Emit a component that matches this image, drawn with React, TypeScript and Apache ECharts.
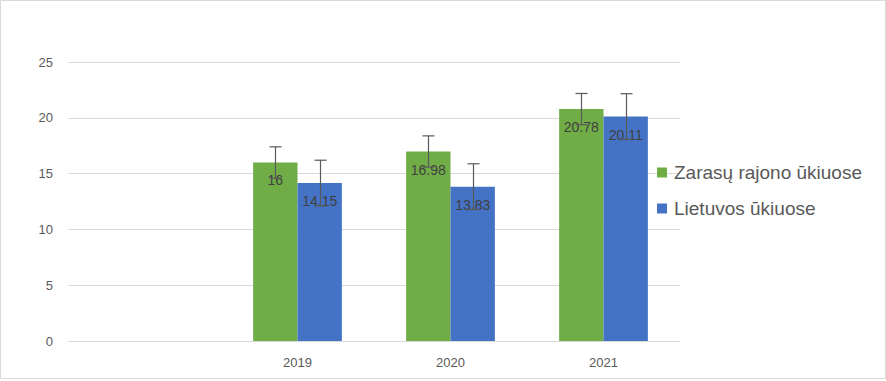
import React, { useEffect, useRef } from "react";
import * as echarts from "echarts";

const categories = ["", "2019", "2020", "2021"];
const zarasaiValues = [null, 16, 16.98, 20.78];
const lietuvaValues = [null, 14.15, 13.83, 20.11];
const zarasaiError = [null, 1.4, 1.4, 1.4];
const lietuvaError = [null, 2.05, 2.05, 2.05];
const seriesNames = ["Zarasų rajono ūkiuose", "Lietuvos ūkiuose"];
const yTicks = { min: 0, max: 25, interval: 5 };

const GREEN = "#70ad47";
const BLUE = "#4472c4";
const GAP = 0.42;

export default function App() {
  const ref = useRef<HTMLDivElement>(null);
  useEffect(() => {
    const chart = echarts.init(ref.current!, null, { renderer: "svg" });
    const errData: any[] = [];
    categories.forEach((c, i) => {
      if (zarasaiValues[i] != null) errData.push([i, zarasaiValues[i], zarasaiError[i], 0]);
      if (lietuvaValues[i] != null) errData.push([i, lietuvaValues[i], lietuvaError[i], 1]);
    });
    const labelCfg = {
      show: true,
      position: "insideTop",
      distance: 11,
      color: "#404040",
      fontSize: 14,
      fontFamily: "Liberation Sans",
    };
    chart.setOption({
      animation: false,
      textStyle: { fontFamily: "Liberation Sans" },
      graphic: [
        {
          type: "rect",
          shape: { x: 0.5, y: 0.5, width: 885, height: 378 },
          style: { fill: "none", stroke: "#d9d9d9", lineWidth: 1 },
          silent: true,
        },
      ],
      grid: { left: 68, right: 206, top: 62, bottom: 40 },
      legend: {
        orient: "vertical",
        left: 652,
        top: 158,
        itemWidth: 10,
        itemHeight: 10,
        itemGap: 17,
        icon: "rect",
        textStyle: { color: "#595959", fontSize: 19, padding: [0, 0, 0, 2] },
        data: seriesNames,
      },
      xAxis: {
        type: "category",
        data: categories,
        axisTick: { show: false },
        axisLine: { lineStyle: { color: "#d9d9d9" } },
        axisLabel: { color: "#595959", fontSize: 13, margin: 15 },
      },
      yAxis: {
        type: "value",
        min: yTicks.min,
        max: yTicks.max,
        interval: yTicks.interval,
        axisLine: { show: false },
        axisTick: { show: false },
        axisLabel: { color: "#595959", fontSize: 13, margin: 15 },
        splitLine: { lineStyle: { color: "#d9d9d9" } },
      },
      series: [
        {
          name: seriesNames[0],
          type: "bar",
          data: zarasaiValues,
          barGap: "0%",
          barCategoryGap: GAP * 100 + "%",
          itemStyle: { color: GREEN },
          label: labelCfg,
          z: 2,
        },
        {
          name: seriesNames[1],
          type: "bar",
          data: lietuvaValues,
          barGap: "0%",
          barCategoryGap: GAP * 100 + "%",
          itemStyle: { color: BLUE },
          label: labelCfg,
          z: 2,
        },
        {
          type: "custom",
          data: errData,
          z: 3,
          silent: true,
          encode: { x: 0, y: 1 },
          renderItem: (params: any, api: any) => {
            const idx = api.value(0);
            const v = api.value(1);
            const e = api.value(2);
            const s = api.value(3);
            const band = api.size([1, 0])[0];
            const barW = (band * (1 - GAP)) / 2;
            const center = api.coord([idx, v]);
            const x = Math.round(center[0] + (s === 0 ? -barW / 2 : barW / 2)) + 0.5;
            const top = api.coord([idx, v + e])[1];
            const bot = api.coord([idx, v - e])[1];
            const style = { stroke: "#595959", lineWidth: 1.2 };
            return {
              type: "group",
              children: [
                { type: "line", shape: { x1: x, y1: top, x2: x, y2: bot }, style },
                { type: "line", shape: { x1: x - 6, y1: top, x2: x + 6, y2: top }, style },
                { type: "line", shape: { x1: x - 6, y1: bot, x2: x + 6, y2: bot }, style },
              ],
            };
          },
        },
      ],
    });
    return () => chart.dispose();
  }, []);
  return (
    <div
      ref={ref}
      style={{ position: "absolute", left: 0, top: 0, width: 886, height: 381, background: "#fff" }}
    />
  );
}
